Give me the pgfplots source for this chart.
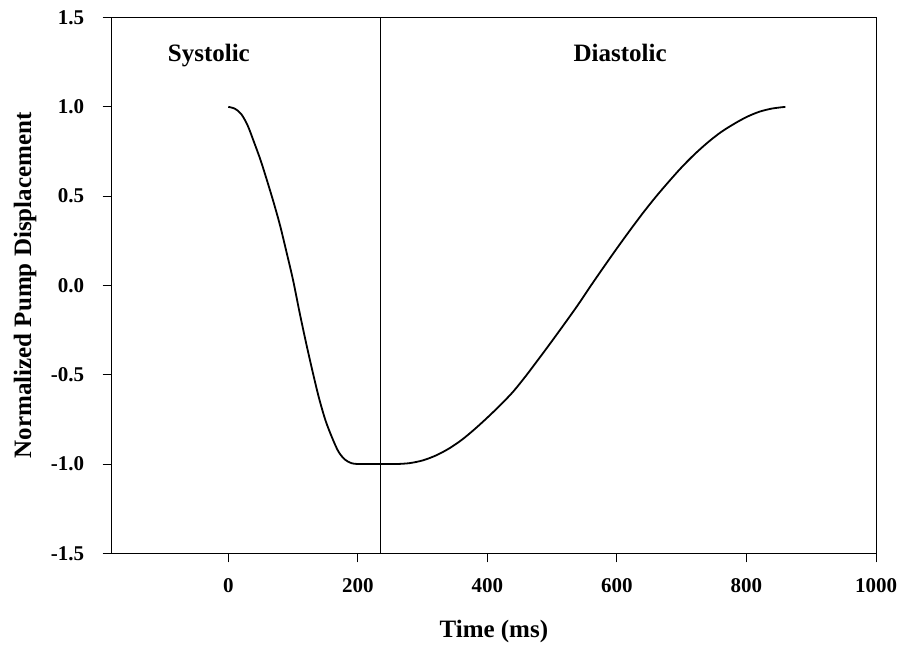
\documentclass[border=0pt]{standalone}
\usepackage{fontspec}
\setmainfont{Liberation Serif}
\usepackage{pgfplots}
\pgfplotsset{compat=1.18}
\begin{document}
\begin{tikzpicture}
\path (-111.7pt,-90pt) rectangle (789.3pt,553.3pt);
\begin{axis}[
  at={(0pt,0pt)}, anchor=south west,
  scale only axis, width=764.3pt, height=535.7pt,
  xmin=-180, xmax=1000, ymin=-1.5, ymax=1.5,
  xtick={0,200,...,1000}, ytick={-1.5,-1,...,1.5},
  tick pos=left, tick align=outside,
  major tick length=9pt,
  axis line style={line width=1pt},
  tick style={black, line width=1pt},
  /pgf/number format/assume math mode=true,
  /pgf/number format/1000 sep={},
  ticklabel style={font=\fontsize{21}{24}\selectfont\bfseries},
  x tick label style={yshift=-13pt},
  y tick label style={xshift=-15pt, /pgf/number format/fixed, /pgf/number format/fixed zerofill, /pgf/number format/precision=1},
  xlabel={Time (ms)},
  ylabel={Normalized Pump Displacement},
  xlabel style={at={(axis description cs:0.5,0)}, anchor=base, yshift=-83.7pt, font=\fontsize{25}{28}\selectfont\bfseries},
  ylabel style={at={(axis description cs:0,0.5)}, anchor=center, yshift=86.7pt, font=\fontsize{25}{28}\selectfont\bfseries},
]
% boundary line between systole and diastole
\addplot[black, line width=1pt] coordinates {(235.5,-1.5) (235.5,1.5)};
% normalized pump displacement
\addplot[black, line width=1.8pt, smooth] table {
t y
0 1.00
10 0.99
20 0.96
30 0.895
40 0.80
50 0.70
60 0.585
70 0.465
80 0.335
90 0.185
100 0.03
110 -0.15
120 -0.32
130 -0.48
140 -0.63
150 -0.755
160 -0.85
170 -0.93
180 -0.975
190 -0.995
200 -1.00
220 -1.00
240 -1.00
260 -1.00
280 -0.995
300 -0.98
320 -0.953
340 -0.915
360 -0.866
380 -0.806
400 -0.740
420 -0.670
440 -0.594
460 -0.504
480 -0.408
500 -0.310
520 -0.210
540 -0.108
560 0.00
580 0.105
600 0.208
620 0.308
640 0.405
660 0.496
680 0.581
700 0.662
720 0.735
740 0.800
760 0.857
780 0.903
800 0.943
820 0.973
840 0.991
860 1.00
};
\node[anchor=base, font=\fontsize{25}{28}\selectfont\bfseries] at (axis cs:-30,1.253) {Systolic};
\node[anchor=base, font=\fontsize{25}{28}\selectfont\bfseries] at (axis cs:605,1.253) {Diastolic};
\end{axis}
\end{tikzpicture}
\end{document}
